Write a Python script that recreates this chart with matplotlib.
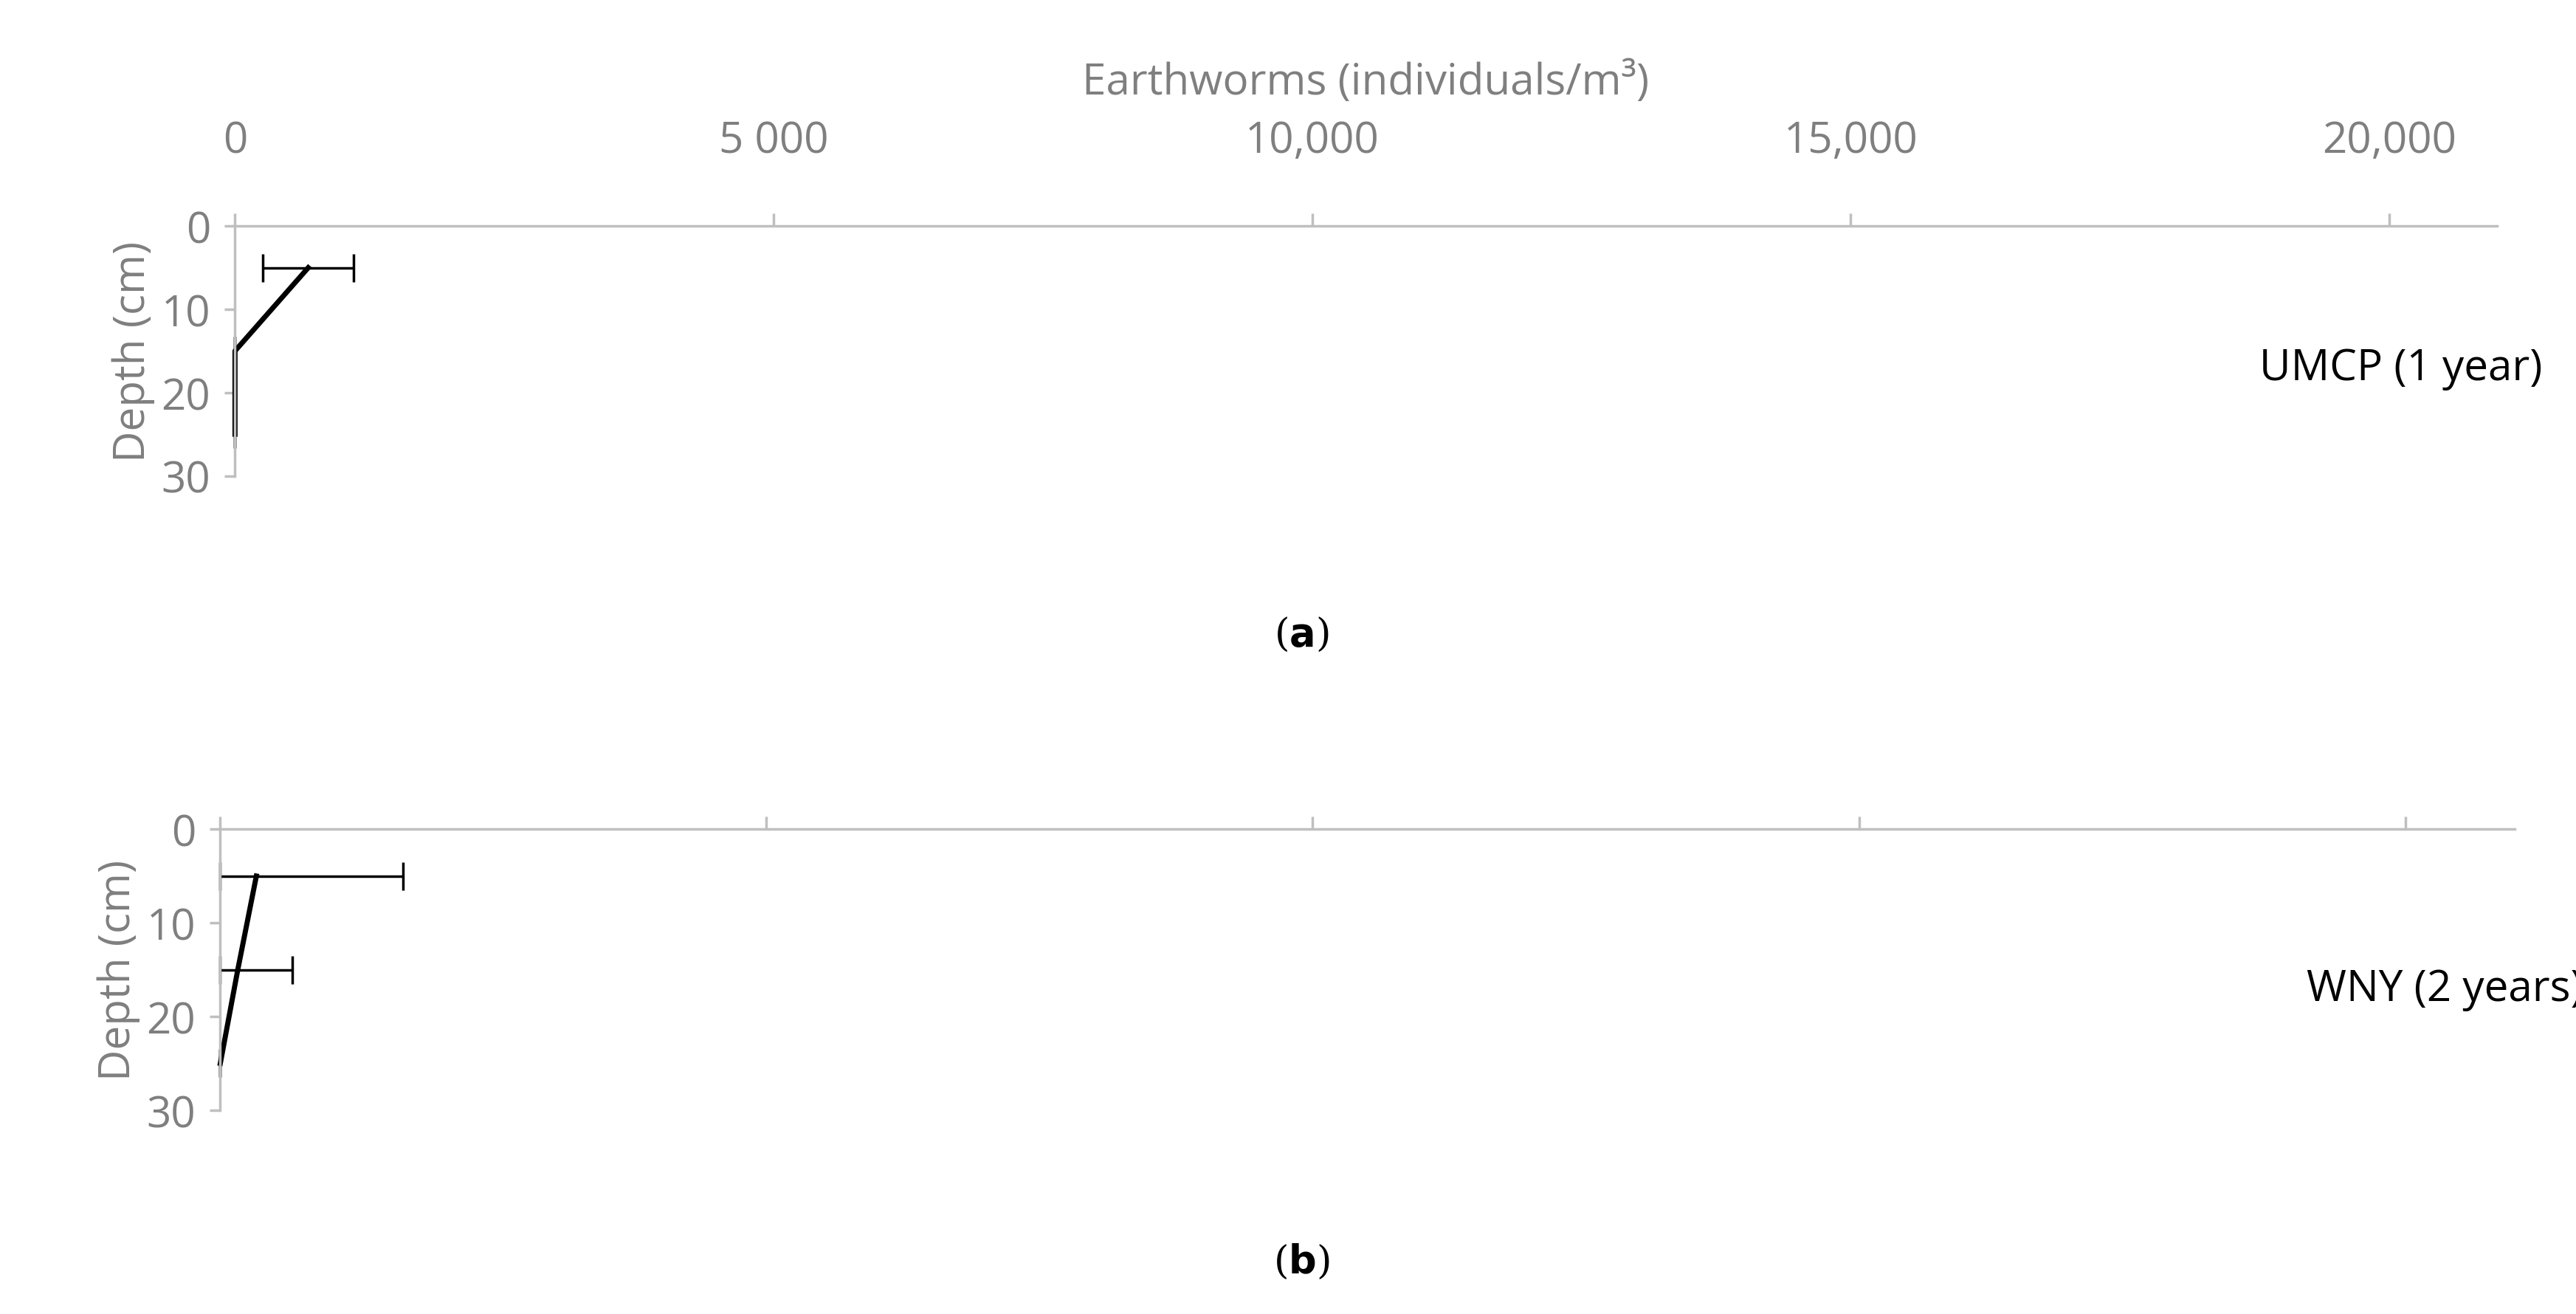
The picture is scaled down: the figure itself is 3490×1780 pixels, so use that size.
import matplotlib
matplotlib.use("Agg")
import matplotlib.pyplot as plt

depth = [5, 15, 25]
umcp_mean = [680, 0, 0]
umcp_err = [420, 0, 0]
wny_mean = [330, 160, 0]
wny_err_lo = [330, 160, 0]
wny_err_hi = [1340, 500, 0]
xticks = [0, 5000, 10000, 15000, 20000]
xticklabels = ["0", "5 000", "10,000", "15,000", "20,000"]
yticks = [0, 10, 20, 30]

plt.rcParams['font.family'] = ['Open Sans', 'DejaVu Sans']
grey = '#7f7f7f'
FS = 42
fig = plt.figure(figsize=(34.91, 17.81), dpi=100)

def style(ax, top_labels):
    ax.set_xlim(0, 21000)
    ax.set_ylim(30, 0)
    for s in ['right', 'bottom']:
        ax.spines[s].set_visible(False)
    for s in ['top', 'left']:
        ax.spines[s].set_color('#bfbfbf')
        ax.spines[s].set_linewidth(2.5)
    ax.spines['left'].set_bounds(0, 30)
    ax.set_yticks(yticks)
    ax.set_xticks(xticks)
    ax.tick_params(axis='y', colors='#bfbfbf', labelcolor=grey, labelsize=FS, length=10, width=2.5, pad=14)
    ax.xaxis.set_ticks_position('top')
    ax.tick_params(axis='x', colors='#bfbfbf', labelcolor=grey, labelsize=FS, length=12, width=2.5,
                   labeltop=top_labels, labelbottom=False, pad=50)
    if top_labels:
        ax.set_xticklabels(xticklabels)
    ax.set_ylabel("Depth (cm)", color=grey, fontsize=FS, labelpad=6)

ax1 = fig.add_axes([0.0912, 0.6375, 0.8778, 0.19])
style(ax1, True)
ax1.errorbar(umcp_mean, depth, xerr=umcp_err, color='black', lw=5, ecolor='black',
             elinewidth=2.5, capsize=14, capthick=2.5, clip_on=False)
ax1.xaxis.set_label_position('top')
ax1.set_xlabel("Earthworms (individuals/m³)", color=grey, fontsize=FS, labelpad=25)
ax1.text(1.02, 0.43, "UMCP (1 year)", transform=ax1.transAxes, ha='right', va='center', fontsize=FS)

ax2 = fig.add_axes([0.0855, 0.155, 0.8903, 0.21375])
style(ax2, False)
ax2.errorbar(wny_mean, depth, xerr=[wny_err_lo, wny_err_hi], color='black', lw=5, ecolor='black',
             elinewidth=2.5, capsize=14, capthick=2.5, clip_on=False)
ax2.text(1.03, 0.43, "WNY (2 years)", transform=ax2.transAxes, ha='right', va='center', fontsize=FS)

fig.text(0.505, 0.517, r"($\bf{a}$)", ha='center', va='center', fontsize=38, family='DejaVu Serif')
fig.text(0.505, 0.04, r"($\bf{b}$)", ha='center', va='center', fontsize=38, family='DejaVu Serif')
fig.savefig("out.png", dpi=100)
